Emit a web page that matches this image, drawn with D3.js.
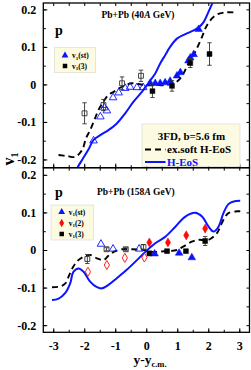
<!DOCTYPE html>
<html><head><meta charset="utf-8">
<script src="https://cdn.jsdelivr.net/npm/d3@7"></script>
<style>
body{margin:0;background:#fff}
svg{display:block}
text{font-family:"Liberation Serif","Times New Roman",serif;font-weight:bold;fill:#000}
</style>
</head><body>
<svg id="c" width="251" height="370"></svg>
<script>
// ---------- data ----------
const xTicks = [-3, -2, -1, 0, 1, 2, 3];
const yTicks = [-0.2, -0.1, 0, 0.1, 0.2];
const yTickLabels = ["-0.2", "-0.1", "0", "0.1", "0.2"];

// Top panel: Pb+Pb 40A GeV
const topTitle = "Pb+Pb (40A GeV)";
const topHEoS = [[-2.3,-0.235],[-2.22,-0.222],[-2.06,-0.2],[-1.86,-0.173],[-1.70,-0.148],[-1.48,-0.135],[-1.22,-0.122],[-0.95,-0.104],[-0.68,-0.077],[-0.41,-0.046],[-0.14,-0.020],[0.02,-0.002],[0.13,0.011],[0.29,0.029],[0.45,0.056],[0.61,0.078],[0.77,0.10],[0.99,0.122],[1.26,0.134],[1.53,0.144],[1.69,0.152],[1.85,0.166],[2.0,0.192],[2.13,0.216],[2.2,0.23]];
const topSoft = [[-2.83,-0.188],[-2.55,-0.191],[-2.29,-0.193],[-2.07,-0.175],[-1.94,-0.143],[-1.81,-0.122],[-1.65,-0.090],[-1.54,-0.068],[-1.38,-0.046],[-1.22,-0.028],[-1.05,-0.020],[-0.89,-0.011],[-0.68,-0.002],[-0.46,0.003],[-0.25,0.001],[-0.03,-0.002],[0.40,-0.002],[0.61,-0.002],[0.88,0.003],[1.04,0.011],[1.20,0.029],[1.36,0.056],[1.58,0.087],[1.80,0.127],[1.96,0.158],[2.23,0.184],[2.55,0.192],[2.81,0.192]];
const topStX = [0.13,0.29,0.45,0.61,0.77,0.99,1.10,1.36,1.42,1.53,1.69];
const topStY = [0.005,0.005,0.005,0.007,0.011,0.025,0.034,0.065,0.073,0.082,0.149];
const topStReflX = [-1.70,-1.48,-1.35,-1.27,-1.07,-0.89,-0.68,-0.52,-0.30,-0.10];
const topStReflY = [-0.148,-0.084,-0.06,-0.068,-0.033,-0.02,-0.008,-0.005,-0.006,-0.006];
const topV3X = [0.20,0.83,1.42,2.04];
const topV3Y = [-0.018,-0.004,0.057,0.081];
const topV3Err = [0.017,0.014,0.012,0.03];
const topV3ReflX = [-1.99,-1.38,-0.78,-0.17];
const topV3ReflY = [-0.077,-0.055,0.003,0.023];
const topV3ReflErr = [0.028,0.015,0.017,0.015];

// Bottom panel: Pb+Pb 158A GeV
const botTitle = "Pb+Pb (158A GeV)";
const botHEoS = [[-3.04,-0.133],[-2.84,-0.130],[-2.61,-0.114],[-2.45,-0.088],[-2.35,-0.058],[-2.18,-0.049],[-2.02,-0.058],[-1.81,-0.084],[-1.59,-0.099],[-1.43,-0.102],[-1.22,-0.093],[-0.95,-0.075],[-0.62,-0.052],[-0.30,-0.027],[-0.03,-0.005],[0.29,0.018],[0.61,0.035],[0.94,0.062],[1.26,0.089],[1.58,0.099],[1.80,0.089],[2.01,0.062],[2.17,0.049],[2.33,0.062],[2.49,0.098],[2.65,0.122],[2.82,0.129],[3.03,0.131]];
const botSoft = [[-3.04,-0.099],[-2.77,-0.097],[-2.61,-0.089],[-2.48,-0.066],[-2.35,-0.044],[-2.19,-0.027],[-1.97,-0.016],[-1.81,-0.013],[-1.59,-0.022],[-1.38,-0.027],[-1.23,-0.016],[-1.05,-0.005],[-0.78,0.002],[-0.46,0.002],[-0.09,0.0],[0.18,-0.005],[0.61,-0.003],[0.99,0.0],[1.19,0.009],[1.47,0.022],[1.68,0.027],[2.01,0.027],[2.28,0.045],[2.39,0.063],[2.55,0.089],[2.65,0.098],[2.93,0.103],[3.09,0.103]];
const botStX = [0.27,1.06,1.47];
const botStY = [-0.008,-0.006,-0.018];
const botStReflX = [-1.46,-1.07,-0.23];
const botStReflY = [0.018,0.005,0.005];
const botV2X = [0.10,0.70,1.29,1.90];
const botV2Y = [0.020,0.020,0.039,0.057];
const botV2ReflX = [-1.88,-1.27,-0.69,-0.06];
const botV2ReflY = [-0.058,-0.040,-0.021,-0.020];
const botV3X = [0.10,0.67,1.28,1.90];
const botV3Y = [-0.009,-0.003,-0.003,0.024];
const botV3Err = [0.006,0.004,0.004,0.012];
const botV3ReflX = [-1.90,-1.28,-0.66,-0.09];
const botV3ReflY = [-0.024,0.002,0.002,0.008];
const botV3ReflErr = [0.012,0.004,0.004,0.006];

// ---------- drawing ----------
const BLUE = "#0a14ff", RED = "#ff0a0a", CREAM = "#fcfae0";
const svg = d3.select("#c");
const x = d3.scaleLinear().domain([-3.32, 3.33]).range([43.3, 249.5]);
const yTop = d3.scaleLinear().domain([-0.222, 0.217]).range([167.7, 3]);
const yBot = d3.scaleLinear().domain([-0.219, 0.219]).range([332.3, 167.7]);

const sym = {
  tri: d3.symbol().type(d3.symbolTriangle).size(25),
  sq: d3.symbol().type(d3.symbolSquare).size(24),
  dia: d3.symbol().type(d3.symbolDiamond).size(24)
};

function panel(id, y, showXLabels) {
  const g = svg.append("g");
  const [y0, y1] = y.range();
  svg.append("clipPath").attr("id", id).append("rect")
    .attr("x", x.range()[0]).attr("y", y1).attr("width", x.range()[1]-x.range()[0]).attr("height", y0-y1);
  const minorX = d3.range(-3, 3.01, 0.5);
  const minorY = d3.range(-0.2, 0.201, 0.05);
  const axes = g.append("g").attr("class", "axes");
  const fmtY = (d) => yTickLabels[yTicks.findIndex(t => Math.abs(t-d) < 1e-9)];
  axes.append("g").attr("transform", `translate(${x.range()[0]},0)`)
    .call(d3.axisLeft(y).tickValues(yTicks).tickSize(-4).tickPadding(7).tickFormat(fmtY));
  axes.append("g").attr("transform", `translate(${x.range()[0]},0)`)
    .call(d3.axisLeft(y).tickValues(minorY).tickSize(-2.5).tickFormat(""));
  axes.append("g").attr("transform", `translate(${x.range()[1]},0)`)
    .call(d3.axisRight(y).tickValues(minorY).tickSize(-3).tickFormat(""));
  axes.append("g").attr("transform", `translate(0,${y0})`)
    .call(d3.axisBottom(x).tickValues(xTicks).tickSize(-4).tickPadding(9)
      .tickFormat(showXLabels ? (d => String(d)) : ""));
  axes.append("g").attr("transform", `translate(0,${y0})`)
    .call(d3.axisBottom(x).tickValues(minorX).tickSize(-2.5).tickFormat(""));
  axes.append("g").attr("transform", `translate(0,${y1})`)
    .call(d3.axisTop(x).tickValues(minorX).tickSize(-3).tickFormat(""));
  axes.selectAll(".domain").remove();
  axes.selectAll("line").attr("stroke", "#000").attr("stroke-width", 1);
  axes.selectAll("text").style("font-family", '"Liberation Serif",serif')
    .style("font-weight", "bold").style("font-size", "12px").attr("fill", "#000");
  g.append("rect").attr("x", x.range()[0]).attr("y", y1)
    .attr("width", x.range()[1]-x.range()[0]).attr("height", y0-y1)
    .attr("fill", "none").attr("stroke", "#000").attr("stroke-width", 1.3);
  const plot = g.append("g").attr("clip-path", `url(#${id})`);
  return {g, plot, y};
}

function curve(p, data, color, dashed) {
  const line = d3.line().x(d => x(d[0])).y(d => p.y(d[1])).curve(d3.curveCatmullRom.alpha(0.5));
  p.plot.append("path").datum(data).attr("d", line).attr("fill", "none")
    .attr("stroke", color).attr("stroke-width", dashed ? 1.9 : 2)
    .attr("stroke-dasharray", dashed ? "6,4" : null);
}

function errs(p, xs, ys, es) {
  xs.forEach((xv, i) => {
    const cx = x(xv), a = p.y(ys[i] - es[i]), b = p.y(ys[i] + es[i]);
    p.plot.append("line").attr("x1", cx).attr("x2", cx).attr("y1", a).attr("y2", b).attr("stroke", "#333").attr("stroke-width", 0.9);
    [a, b].forEach(yy => p.plot.append("line").attr("x1", cx-2.2).attr("x2", cx+2.2).attr("y1", yy).attr("y2", yy).attr("stroke", "#333").attr("stroke-width", 0.9));
  });
}

function marks(p, xs, ys, shape, color, open, dy) {
  xs.forEach((xv, i) => {
    p.plot.append("path").attr("d", sym[shape]())
      .attr("transform", `translate(${x(xv)},${p.y(ys[i]) + (dy || 0)})`)
      .attr("fill", open ? "none" : color).attr("stroke", color).attr("stroke-width", open ? 0.9 : 0.5);
  });
}

function legendRow(g, cx, cy, shape, color, label) {
  g.append("path").attr("d", d3.symbol().type(shape === "tri" ? d3.symbolTriangle : shape === "sq" ? d3.symbolSquare : d3.symbolDiamond).size(20)())
    .attr("transform", `translate(${cx},${cy})`).attr("fill", color);
  const t = g.append("text").attr("x", cx + 7).attr("y", cy + 2.6).style("font-size", "7.5px");
  t.append("tspan").text("v");
  t.append("tspan").text("1").style("font-size", "5px").attr("dy", 1.5);
  t.append("tspan").text(label).attr("dy", -1.5);
}

// ---- top panel ----
const P1 = panel("clipTop", yTop, false);
curve(P1, topSoft, "#000", true);
curve(P1, topHEoS, BLUE, false);
marks(P1, topStReflX, topStReflY, "tri", BLUE, true, 0.8);
marks(P1, topStX, topStY, "tri", BLUE, false, 0.8);
errs(P1, topV3ReflX, topV3ReflY, topV3ReflErr);
errs(P1, topV3X, topV3Y, topV3Err);
marks(P1, topV3ReflX, topV3ReflY, "sq", "#333", true);
marks(P1, topV3X, topV3Y, "sq", "#000", false);

svg.append("text").attr("x", 55).attr("y", 35).style("font-size", "14px").text("p");
{
  const t = svg.append("text").attr("x", 101.5).attr("y", 17.5).style("font-size", "9.5px");
  t.append("tspan").text("Pb+Pb (40");
  t.append("tspan").text("A").style("font-style", "italic");
  t.append("tspan").text(" GeV)");
}
{
  const lg = svg.append("g");
  lg.append("rect").attr("x", 54.3).attr("y", 47.7).attr("width", 41.4).attr("height", 25)
    .attr("fill", CREAM).attr("stroke", "#d8d8d0").attr("stroke-width", 0.6);
  legendRow(lg, 65, 55.5, "tri", BLUE, "(st)");
  legendRow(lg, 65, 66, "sq", "#000", "(3)");
}
{
  const lg = svg.append("g");
  lg.append("rect").attr("x", 142).attr("y", 124).attr("width", 98).attr("height", 42.5)
    .attr("fill", CREAM).attr("stroke", "#d8d8d0").attr("stroke-width", 0.6);
  lg.append("text").attr("x", 191.5).attr("y", 139.5).attr("text-anchor", "middle").style("font-size", "11px").text("3FD, b=5.6 fm");
  lg.append("line").attr("x1", 145).attr("x2", 165.5).attr("y1", 149.5).attr("y2", 149.5)
    .attr("stroke", "#000").attr("stroke-width", 2).attr("stroke-dasharray", "6,4");
  lg.append("text").attr("x", 167).attr("y", 153).style("font-size", "11px").text("ex.soft H-EoS");
  lg.append("line").attr("x1", 145).attr("x2", 165.5).attr("y1", 162).attr("y2", 162)
    .attr("stroke", BLUE).attr("stroke-width", 2);
  lg.append("text").attr("x", 167).attr("y", 166).style("font-size", "11px").style("fill", BLUE).text("H-EoS");
}

// ---- bottom panel ----
const P2 = panel("clipBot", yBot, true);
curve(P2, botSoft, "#000", true);
curve(P2, botHEoS, BLUE, false);
marks(P2, botStReflX, botStReflY, "tri", BLUE, true, 0.8);
marks(P2, botStX, botStY, "tri", BLUE, false, 0.8);
marks(P2, botV2ReflX, botV2ReflY, "dia", RED, true);
marks(P2, botV2X, botV2Y, "dia", RED, false);
errs(P2, botV3ReflX, botV3ReflY, botV3ReflErr);
errs(P2, botV3X, botV3Y, botV3Err);
marks(P2, botV3ReflX, botV3ReflY, "sq", "#333", true);
marks(P2, botV3X, botV3Y, "sq", "#000", false);

svg.append("text").attr("x", 55).attr("y", 197).style("font-size", "14px").text("p");
{
  const t = svg.append("text").attr("x", 97).attr("y", 194.5).style("font-size", "9.5px");
  t.append("tspan").text("Pb+Pb (158");
  t.append("tspan").text("A").style("font-style", "italic");
  t.append("tspan").text(" GeV)");
}
{
  const lg = svg.append("g");
  lg.append("rect").attr("x", 51).attr("y", 205).attr("width", 42.5).attr("height", 35)
    .attr("fill", CREAM).attr("stroke", "#d8d8d0").attr("stroke-width", 0.6);
  legendRow(lg, 61.7, 212, "tri", BLUE, "(st)");
  legendRow(lg, 61.7, 223, "dia", RED, "(2)");
  legendRow(lg, 61.7, 234, "sq", "#000", "(3)");
}

// ---- axis titles ----
{
  const t = svg.append("text").attr("transform", "translate(14,159) rotate(-90)")
    .attr("text-anchor", "middle").style("font-size", "16px");
  t.append("tspan").text("v");
  t.append("tspan").text("1").style("font-size", "10px").attr("dy", 3.5);
}
{
  const t = svg.append("text").attr("x", 150).attr("y", 364).attr("text-anchor", "middle").style("font-size", "13.5px");
  t.append("tspan").text("y-y");
  t.append("tspan").text("c.m.").style("font-size", "8.5px").attr("dy", 2.5);
}
</script>
</body></html>
